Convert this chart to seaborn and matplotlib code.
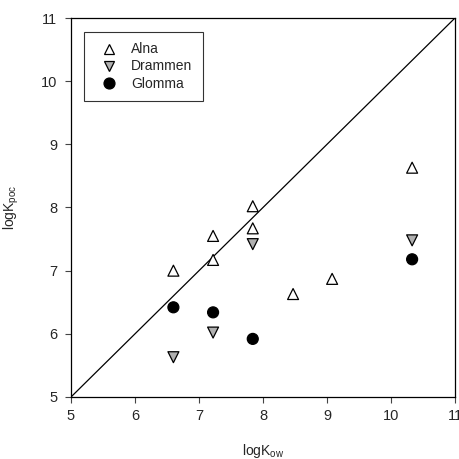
import pandas as pd
import matplotlib.pyplot as plt
import seaborn as sns

# data
alna_x = [6.6, 7.22, 7.22, 7.84, 7.84, 8.47, 9.08, 10.33]
alna_y = [7.0, 7.55, 7.17, 8.02, 7.67, 6.63, 6.87, 8.63]
drammen_x = [6.6, 7.22, 7.84, 10.33]
drammen_y = [5.63, 6.02, 7.42, 7.48]
glomma_x = [6.6, 7.22, 7.84, 10.33]
glomma_y = [6.42, 6.34, 5.92, 7.18]
ticks = [5, 6, 7, 8, 9, 10, 11]

df = pd.concat([
    pd.DataFrame({'x': alna_x, 'y': alna_y, 'site': 'Alna'}),
    pd.DataFrame({'x': drammen_x, 'y': drammen_y, 'site': 'Drammen'}),
    pd.DataFrame({'x': glomma_x, 'y': glomma_y, 'site': 'Glomma'}),
])

sns.set_style('ticks')
plt.rcParams['font.family'] = ['Liberation Sans', 'DejaVu Sans']

fig = plt.figure(figsize=(4.6, 4.59), dpi=100)
ax = fig.add_axes([71/460, 1-397/459, 384/460, 379/459])

# 1:1 line
ax.plot([5, 11], [5, 11], color='black', lw=0.9, zorder=1)

sns.scatterplot(data=df, x='x', y='y', hue='site', style='site',
                palette={'Alna': 'white', 'Drammen': '#b0b0b0', 'Glomma': 'black'},
                markers={'Alna': '^', 'Drammen': 'v', 'Glomma': 'o'},
                edgecolor='black', linewidth=0.9, s=62, ax=ax, zorder=3)

ax.set_xlim(5, 11)
ax.set_ylim(5, 11)
ax.set_xticks(ticks)
ax.set_yticks(ticks)
ax.tick_params(labelsize=10.5, length=4, width=0.8, color='#444444')
ax.tick_params(axis='y', pad=6)
ax.tick_params(axis='x', pad=5)
for sp in ax.spines.values():
    sp.set_color('black')
    sp.set_linewidth(0.9)
ax.set_xlabel(r'logK$_{\mathregular{ow}}$', fontsize=10, labelpad=13)
ax.set_ylabel(r'logK$_{\mathregular{poc}}$', fontsize=10, labelpad=14)

leg = ax.legend(loc='upper left', bbox_to_anchor=(0.035, 0.963), fontsize=10,
                frameon=True, fancybox=False, edgecolor='black',
                borderpad=0.75, handletextpad=0.6, labelspacing=0.22,
                borderaxespad=0)
leg.get_frame().set_linewidth(0.8)

plt.savefig('out.png', dpi=100)
plt.close()
